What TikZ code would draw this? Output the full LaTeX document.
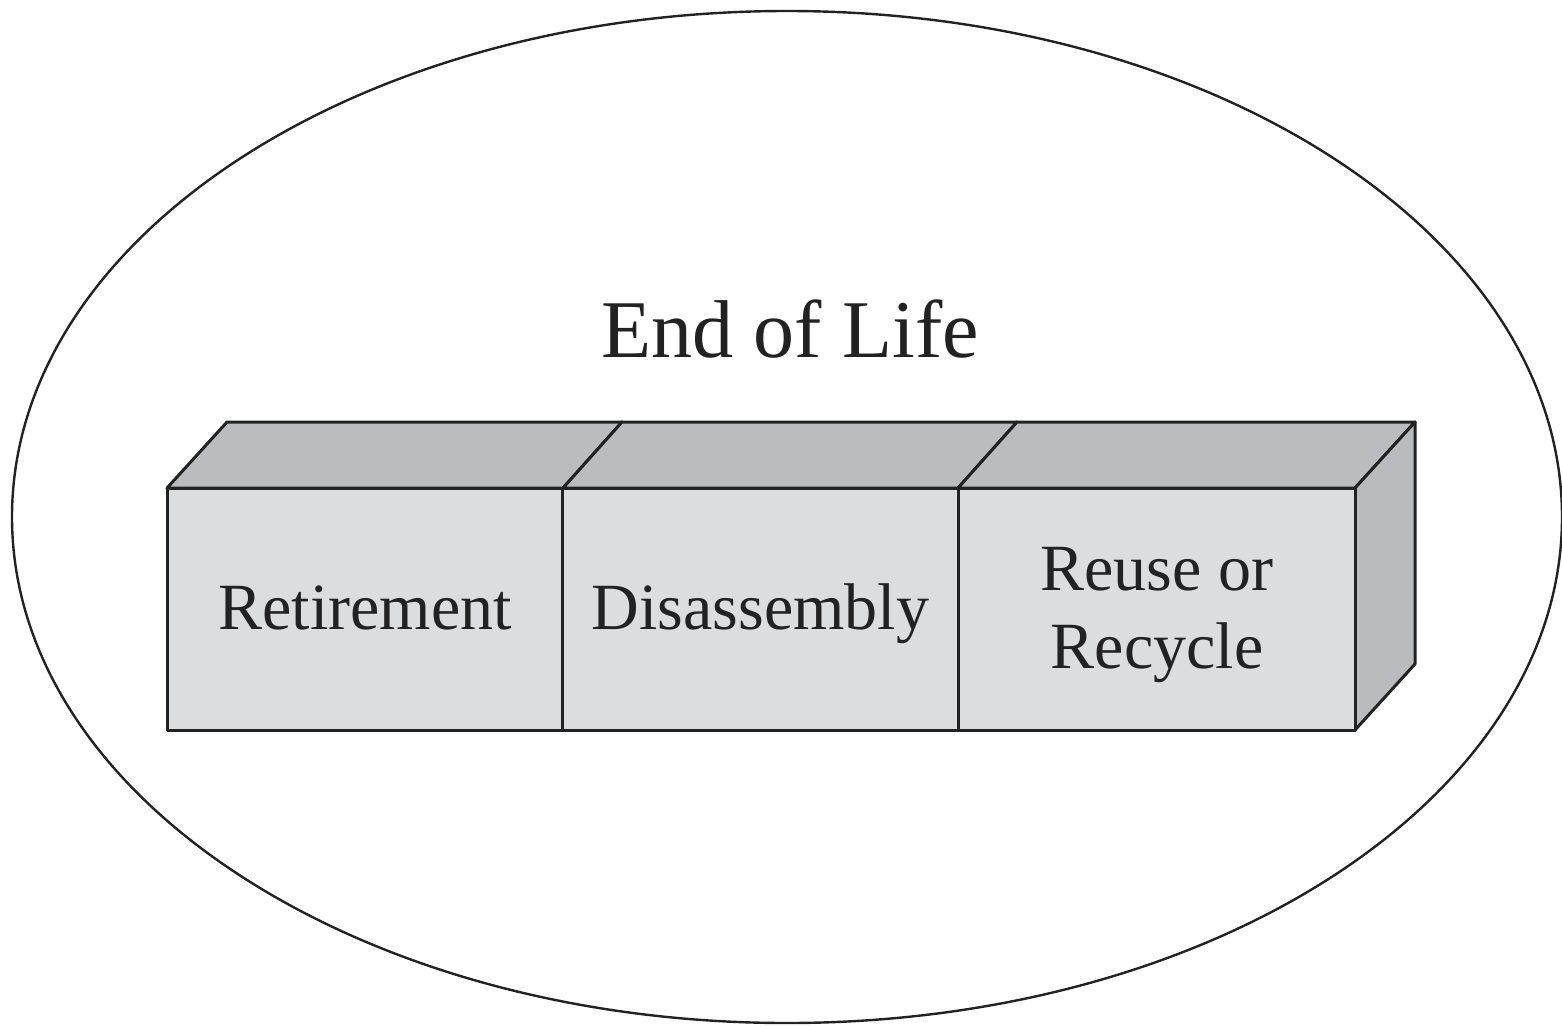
\documentclass[tikz,border=0pt]{standalone}
\usepackage{fontspec}
\setmainfont{Liberation Serif}
\definecolor{frontgray}{HTML}{DCDDDF}
\definecolor{topgray}{HTML}{BBBCBF}
\definecolor{sidegray}{HTML}{BABBBE}
\definecolor{ink}{HTML}{222222}
\tikzset{
  face/.style={draw=ink, line width=3pt, fill=frontgray, minimum width=396pt, minimum height=242pt,
    inner sep=0pt, line join=round},
  lbl/.style={inner sep=0pt, anchor=base, font=\fontsize{66}{78}\selectfont, text=ink},
  topface/.style={draw=ink, line width=3pt, fill=topgray, line join=round},
  sideface/.style={draw=ink, line width=3pt, fill=sidegray, line join=round},
}
\begin{document}
\begin{tikzpicture}[x=1pt,y=-1pt]
\useasboundingbox (0,0) rectangle (1562,1026);
\draw[ink, line width=2.4pt] (787,517) ellipse [x radius=775, y radius=506];
\node[font=\fontsize{82}{96}\selectfont, text=ink, inner sep=0pt, anchor=base] (title) at (790,357) {End of Life};
% top faces
\path[topface] (167,488) -- (227,422) -- (622,422) -- (563,488) -- cycle;
\path[topface] (563,488) -- (622,422) -- (1017,422) -- (958,488) -- cycle;
\path[topface] (958,488) -- (1017,422) -- (1415,422) -- (1355,488) -- cycle;
% side face
\path[sideface] (1355,488) -- (1415,422) -- (1415,664) -- (1355,730) -- cycle;
% front faces
\node[face] (ret) at (365,609) {};
\node[face] (dis) at (760.5,609) {};
\node[face, minimum width=397pt] (reu) at (1156.5,609) {};
% labels
\node[lbl] (retl) at (365,629) {Retirement};
\node[lbl] (disl) at (760.5,629) {Disassembly};
\node[lbl] (reul1) at (1157,590) {Reuse or};
\node[lbl] (reul2) at (1157,668) {Recycle};
\end{tikzpicture}
\end{document}
